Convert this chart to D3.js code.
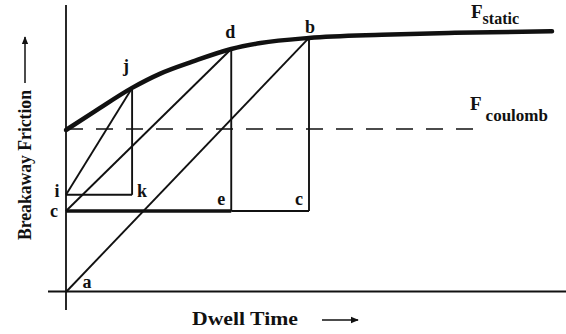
<!DOCTYPE html>
<html>
<head>
<meta charset="utf-8">
<script src="https://cdn.jsdelivr.net/npm/d3@7"></script>
<style>
  body { margin: 0; background: #fff; }
  text { font-family: "Liberation Serif", "Times New Roman", serif; font-weight: bold; fill: #111; }
</style>
</head>
<body>
<div id="chart"></div>
<script>
// static friction curve (dwell time vs breakaway friction, arbitrary units)
var staticTime = [0, 6, 13.6, 19.3, 26, 34, 40, 50, 65, 80, 100];
var staticFriction = [60, 67, 75.6, 80.8, 85.3, 90, 92.2, 94.1, 95.3, 96, 96.6];

// coulomb friction level
var coulombLevel = 60;

// named points of the construction
var pointNames = ["a", "c", "i", "j", "k", "d", "e", "b", "c2"];
var pointTime = [0, 0, 0, 13.6, 13.6, 34, 34, 50, 50];
var pointFriction = [0, 30, 36, 75.6, 36, 90, 30, 94.1, 30];

// thin construction segments, and the thick one along the c level
var segments = [["a", "b"], ["c", "d"], ["i", "j"], ["i", "k"], ["k", "j"],
                ["e", "d"], ["c2", "b"], ["e", "c2"]];
var thickSegments = [["c", "e"]];

var width = 566;
var height = 334;

var svg = d3.select("#chart").append("svg")
            .attr("width", width)
            .attr("height", height);

var x = d3.scaleLinear().domain([0, 100]).range([66, 552]);
var y = d3.scaleLinear().domain([0, 100]).range([292, 22]);

var pts = {};
pointNames.forEach(function(n, i){
  pts[n] = {t: pointTime[i], f: pointFriction[i]};
});

// axes (no ticks, plain lines)
svg.append("line")
   .attr("x1", x(0)).attr("x2", x(0))
   .attr("y1", 5).attr("y2", 310)
   .attr("stroke", "#111").attr("stroke-width", 1.8);

svg.append("line")
   .attr("x1", 48).attr("x2", 566)
   .attr("y1", y(0) - 0.5).attr("y2", y(0) - 0.5)
   .attr("stroke", "#111").attr("stroke-width", 2);

// coulomb dashed line
svg.append("line")
   .attr("x1", x(0)).attr("x2", 478)
   .attr("y1", y(coulombLevel) - 1).attr("y2", y(coulombLevel) - 1)
   .attr("stroke", "#111").attr("stroke-width", 1.4)
   .attr("stroke-dasharray", "17,13");

// construction segments
svg.append("g").selectAll("line")
   .data(segments)
   .enter().append("line")
   .attr("x1", function(d){ return x(pts[d[0]].t); })
   .attr("y1", function(d){ return y(pts[d[0]].f); })
   .attr("x2", function(d){ return x(pts[d[1]].t); })
   .attr("y2", function(d){ return y(pts[d[1]].f); })
   .attr("stroke", "#111")
   .attr("stroke-width", 1.9);

svg.append("g").selectAll("line")
   .data(thickSegments)
   .enter().append("line")
   .attr("x1", function(d){ return x(pts[d[0]].t); })
   .attr("y1", function(d){ return y(pts[d[0]].f); })
   .attr("x2", function(d){ return x(pts[d[1]].t); })
   .attr("y2", function(d){ return y(pts[d[1]].f); })
   .attr("stroke", "#111")
   .attr("stroke-width", 3.5);

// static friction curve
var staticLine = d3.line()
                   .x(function(d, i){ return x(staticTime[i]); })
                   .y(function(d){ return y(d); })
                   .curve(d3.curveMonotoneX);

svg.append("path")
   .datum(staticFriction)
   .attr("d", staticLine)
   .attr("fill", "none")
   .attr("stroke", "#111")
   .attr("stroke-width", 4.5)
   .attr("stroke-linecap", "round");

// point labels
var labelOffsets = {
  a: [21, -4, "a"], c: [-12, 6, "c"], i: [-9, 2, "i"], j: [-6, -16, "j"],
  k: [10, 2, "k"], d: [-1, -11, "d"], e: [-10, -6, "e"], b: [1, -5, "b"], c2: [-10, -6, "c"]
};
pointNames.forEach(function(n){
  var o = labelOffsets[n];
  svg.append("text")
     .attr("x", x(pts[n].t) + o[0])
     .attr("y", y(pts[n].f) + o[1])
     .attr("text-anchor", "middle")
     .style("font-size", "18px")
     .text(o[2]);
});

// curve labels
var fs = svg.append("text").attr("x", 471).attr("y", 18).style("font-size", "19px");
fs.append("tspan").text("F");
fs.append("tspan").attr("dy", 6).style("font-size", "16px").text("static");

var fc = svg.append("text").attr("x", 470).attr("y", 110).style("font-size", "19px");
fc.append("tspan").text("F");
fc.append("tspan").attr("dx", 4).attr("dy", 11).style("font-size", "17px").text("coulomb");

// axis titles
svg.append("text")
   .attr("transform", "translate(31,240) rotate(-90)")
   .attr("textLength", 150)
   .attr("lengthAdjust", "spacingAndGlyphs")
   .style("font-size", "18px")
   .text("Breakaway Friction");

svg.append("text")
   .attr("x", 192).attr("y", 325)
   .attr("textLength", 106)
   .attr("lengthAdjust", "spacingAndGlyphs")
   .style("font-size", "19px")
   .text("Dwell Time");

// arrows next to the titles
svg.append("defs").append("marker")
   .attr("id", "head")
   .attr("viewBox", "0 0 10 10")
   .attr("refX", 9).attr("refY", 5)
   .attr("markerWidth", 5.5).attr("markerHeight", 5.5)
   .attr("orient", "auto")
   .append("path")
   .attr("d", "M0,1 L10,5 L0,9 z")
   .attr("fill", "#111");

svg.append("line")
   .attr("x1", 25).attr("x2", 25).attr("y1", 83).attr("y2", 37)
   .attr("stroke", "#111").attr("stroke-width", 1.5)
   .attr("marker-end", "url(#head)");

svg.append("line")
   .attr("x1", 322).attr("x2", 358).attr("y1", 320).attr("y2", 320)
   .attr("stroke", "#111").attr("stroke-width", 1.5)
   .attr("marker-end", "url(#head)");
</script>
</body>
</html>
